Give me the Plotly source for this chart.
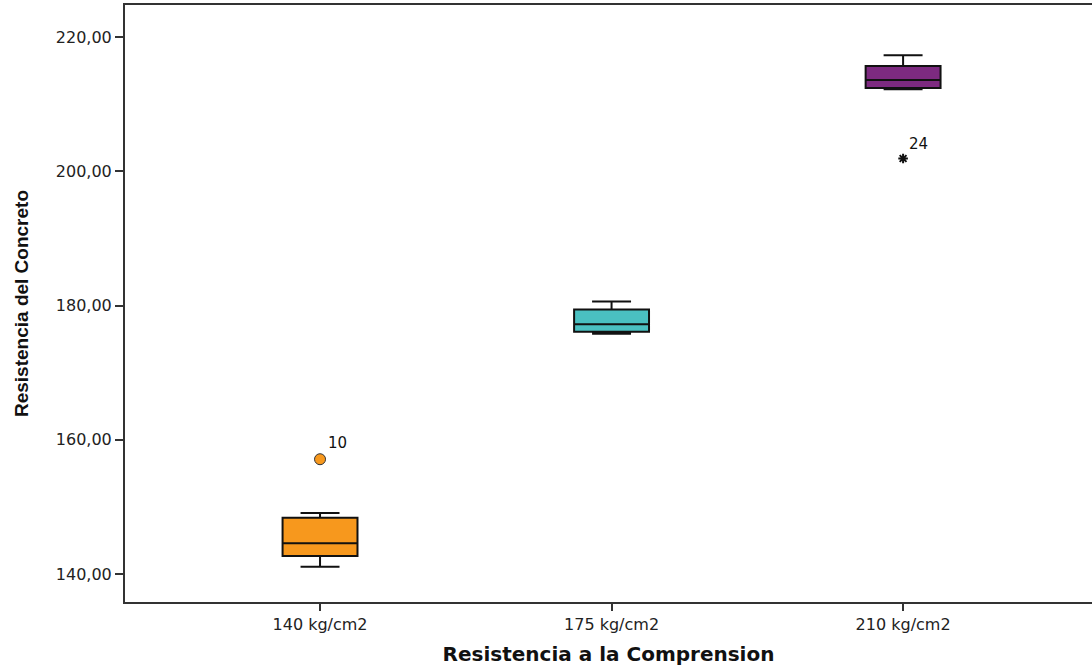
import plotly.graph_objects as go

# Compressive-strength groups and their box statistics
categories = ["140 kg/cm2", "175 kg/cm2", "210 kg/cm2"]
q1 = [142.7, 176.1, 212.4]
median = [144.6, 177.2, 213.6]
q3 = [148.4, 179.4, 215.7]
lower_whisker = [141.1, 175.8, 212.2]
upper_whisker = [149.1, 180.6, 217.3]
fill_colors = ["#F7981D", "#4AC0C1", "#7D2A80"]

# Flagged cases: outlier (circle) and extreme value (star)
outlier_cat = ["140 kg/cm2"]
outlier_val = [157.1]
outlier_id = ["10"]
extreme_cat = ["210 kg/cm2"]
extreme_val = [201.9]
extreme_id = ["24"]

y_ticks = [140, 160, 180, 200, 220]
y_tick_text = ["140,00", "160,00", "180,00", "200,00", "220,00"]

fig = go.Figure()

for i, cat in enumerate(categories):
    fig.add_trace(go.Box(
        x=[cat],
        q1=[q1[i]], median=[median[i]], q3=[q3[i]],
        lowerfence=[lower_whisker[i]], upperfence=[upper_whisker[i]],
        fillcolor=fill_colors[i],
        line=dict(color="#111111", width=2),
        width=0.257,
        whiskerwidth=0.52,
        boxpoints=False,
        showlegend=False,
        hoverinfo="skip",
    ))

fig.add_trace(go.Scatter(
    x=outlier_cat, y=outlier_val,
    mode="markers+text",
    marker=dict(symbol="circle", size=11, color=fill_colors[0],
                line=dict(color="#333333", width=1)),
    text=outlier_id, textposition="top right",
    textfont=dict(family="DejaVu Sans", size=15, color="#111111"),
    showlegend=False, hoverinfo="skip",
))

fig.add_trace(go.Scatter(
    x=extreme_cat, y=extreme_val,
    mode="markers+text",
    marker=dict(symbol="asterisk-open", size=8, color="#111111",
                line=dict(color="#111111", width=2)),
    text=extreme_id, textposition="top right",
    textfont=dict(family="DejaVu Sans", size=15, color="#111111"),
    showlegend=False, hoverinfo="skip",
))

fig.update_layout(
    width=1092, height=666,
    margin=dict(l=125, r=0, t=5, b=64),
    paper_bgcolor="white", plot_bgcolor="white",
    boxmode="overlay",
    font=dict(family="DejaVu Sans", color="#111111"),
    xaxis=dict(
        type="category",
        categoryorder="array", categoryarray=categories,
        range=[-0.669, 2.648],
        showline=True, linecolor="#333333", linewidth=2, mirror=True,
        ticks="outside", ticklen=7, tickwidth=2, tickcolor="#333333",
        tickfont=dict(family="DejaVu Sans", size=16, color="#222222"),
        showgrid=False, zeroline=False,
        title=dict(text="<b>Resistencia a la Comprension</b>",
                   font=dict(family="DejaVu Sans", size=20, color="#111111"),
                   standoff=16),
    ),
    yaxis=dict(
        range=[135.83, 224.77],
        tickvals=y_ticks, ticktext=y_tick_text,
        showline=True, linecolor="#333333", linewidth=2, mirror=False,
        ticks="outside", ticklen=8, tickwidth=2, tickcolor="#333333",
        tickfont=dict(family="DejaVu Sans", size=16, color="#222222"),
        showgrid=False, zeroline=False,
        title=dict(text="<b>Resistencia del Concreto</b>",
                   font=dict(family="Liberation Sans", size=19, color="#111111"),
                   standoff=22),
    ),
)

fig.write_html("out.html")
